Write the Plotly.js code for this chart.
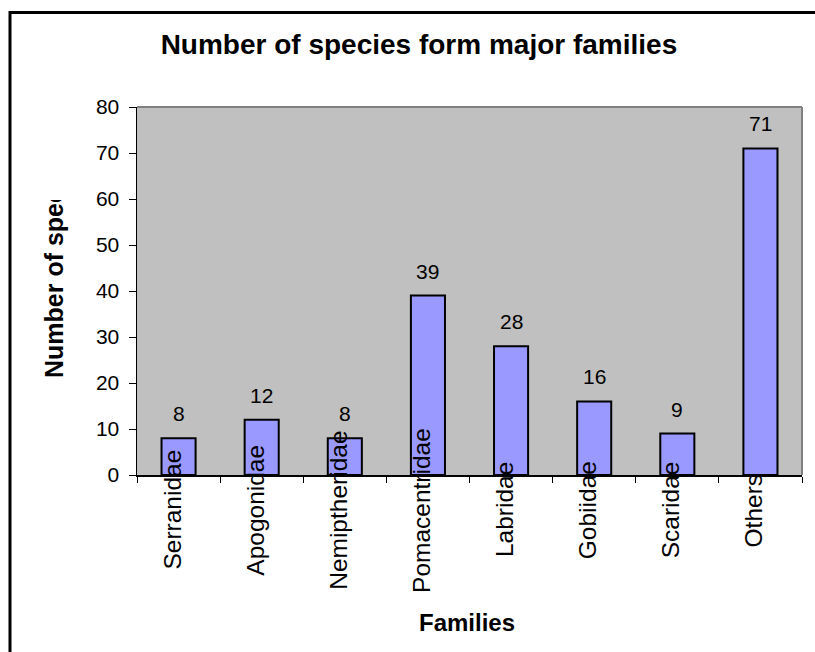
<!DOCTYPE html>
<html>
<head>
<meta charset="utf-8">
<script src="https://cdn.plot.ly/plotly-3.0.1.min.js"></script>
<style>html,body{margin:0;padding:0;background:#fff;}#chart{width:815px;height:652px;}</style>
</head>
<body>
<div id="chart"></div>
<script>
const families = ["Serranidae", "Apogonidae", "Nemiptheridae", "Pomacentridae", "Labridae", "Gobiidae", "Scaridae", "Others"];
const speciesCounts = [8, 12, 8, 39, 28, 16, 9, 71];
const yTickValues = [0, 10, 20, 30, 40, 50, 60, 70, 80];
const chartTitle = "Number of species form major families";
const xTitle = "Families";
const yTitle = "Number of species";

const FONT = "Liberation Sans, Arial, sans-serif";

const trace = {
  type: "bar",
  x: families,
  y: speciesCounts,
  width: 0.41,
  marker: { color: "#9999FF", line: { color: "#000000", width: 2 } },
  hoverinfo: "x+y"
};

const annotations = [];
families.forEach((f, i) => {
  annotations.push({
    x: f, y: speciesCounts[i], xref: "x", yref: "y",
    text: String(speciesCounts[i]), showarrow: false,
    yanchor: "bottom", yshift: 11,
    font: { family: FONT, size: 21, color: "#000" }
  });
  annotations.push({
    x: f, y: -0.0951, xref: "x", yref: "paper",
    text: f, showarrow: false, textangle: -90,
    xanchor: "center", yanchor: "middle", xshift: -6,
    font: { family: FONT, size: 24.5, color: "#000" }
  });
});
annotations.push({
  x: 0.496, y: -0.3995, xref: "paper", yref: "paper",
  text: "<b>" + xTitle + "</b>", showarrow: false,
  xanchor: "center", yanchor: "middle",
  font: { family: FONT, size: 24, color: "#000" }
});
annotations.push({
  x: -0.1248, y: 0.5054, xref: "paper", yref: "paper",
  text: "<b>" + yTitle + "</b>", showarrow: false, textangle: -90,
  width: 178, height: 30, align: "left",
  xanchor: "center", yanchor: "middle",
  font: { family: FONT, size: 25, color: "#000" }
});

const layout = {
  width: 815, height: 652,
  margin: { l: 137, r: 13, t: 107, b: 177 },
  paper_bgcolor: "#ffffff",
  plot_bgcolor: "#C0C0C0",
  showlegend: false,
  title: {
    text: "<b>" + chartTitle + "</b>",
    font: { family: FONT, size: 28, color: "#000" },
    xref: "paper", x: 0.424, xanchor: "center",
    yref: "container", y: 0.9325, yanchor: "middle"
  },
  xaxis: {
    type: "category", range: [-0.5, 7.5],
    showticklabels: false, ticks: "outside", tickson: "boundaries",
    ticklen: 6, tickcolor: "#000", tickwidth: 1,
    showline: true, linecolor: "#000", linewidth: 1.5,
    showgrid: false, zeroline: false
  },
  yaxis: {
    range: [0, 80], tickvals: yTickValues, ticktext: yTickValues.map(String),
    ticks: "outside", ticklen: 7, tickcolor: "#000", tickwidth: 1,
    ticklabelstandoff: 5,
    tickfont: { family: FONT, size: 21, color: "#000" },
    showline: true, linecolor: "#000", linewidth: 1.5,
    showgrid: false, zeroline: false
  },
  shapes: [
    { type: "line", xref: "paper", yref: "paper", x0: 0, x1: 1, y0: 1, y1: 1, line: { color: "#808080", width: 2 } },
    { type: "line", xref: "paper", yref: "paper", x0: 1, x1: 1, y0: 0, y1: 1, line: { color: "#808080", width: 2 } },
    { type: "rect", xref: "paper", yref: "paper", x0: -0.19098, x1: 2, y0: -1, y1: 1.2568, line: { color: "#000", width: 3 }, fillcolor: "rgba(0,0,0,0)" }
  ],
  annotations: annotations
};

Plotly.newPlot("chart", [trace], layout, { displayModeBar: false, staticPlot: true });
</script>
</body>
</html>
